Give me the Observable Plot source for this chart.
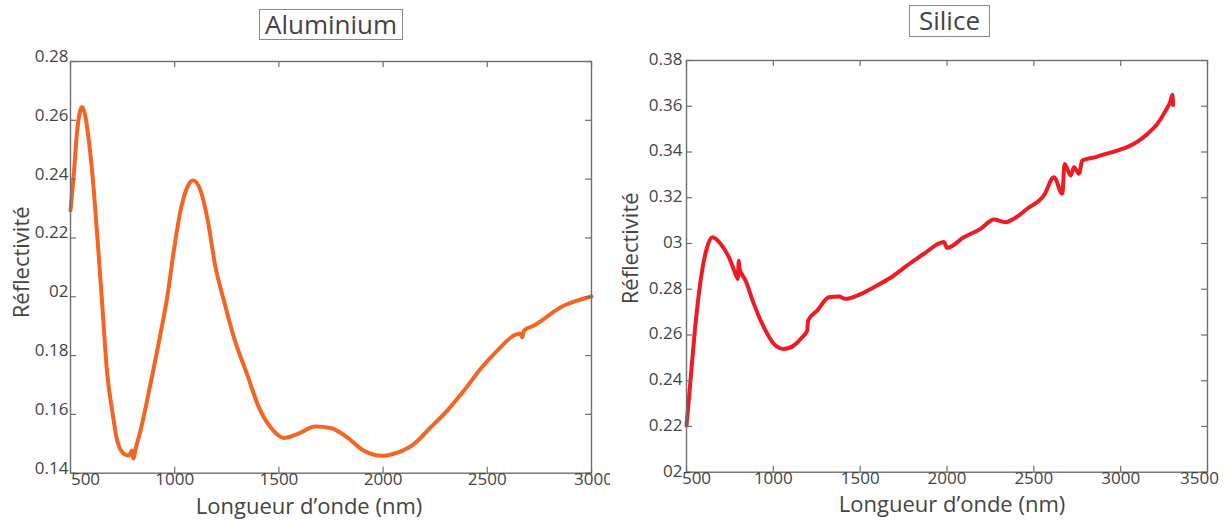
<!DOCTYPE html>
<html>
<head>
<meta charset="utf-8">
<script src="https://cdn.jsdelivr.net/npm/d3@7"></script>
<script src="https://cdn.jsdelivr.net/npm/@observablehq/plot@0.6"></script>
<style>
  body { margin: 0; background: #fff; font-family: "Open Sans", sans-serif; }
  #wrap { position: relative; width: 1227px; height: 522px; overflow: hidden; background: #fff; }
  .panel { position: absolute; top: 0; }
  .title { position: absolute; border: 1.5px solid #8a8a8a; color: #444; font-size: 26px; line-height: 28px;
           box-sizing: border-box; text-align: center; font-family: "Open Sans", sans-serif; }
</style>
</head>
<body>
<div id="wrap">
  <div id="al" class="panel" style="left:0px"></div>
  <div id="si" class="panel" style="left:610px"></div>
  <div class="title" style="left:259px;top:9px;width:144px;height:31px">Aluminium</div>
  <div class="title" style="left:909px;top:5px;width:81px;height:32px">Silice</div>
</div>
<script>
// ---------- Aluminium ----------
const alWavelength = [500, 516, 532, 556, 570, 588, 612, 636, 652, 676, 700, 724, 756, 780, 796, 801, 815, 836, 884, 932, 964, 996, 1028, 1060, 1089, 1124, 1156, 1196, 1236, 1284, 1348, 1404, 1460, 1524, 1588, 1676, 1748, 1828, 1908, 1996, 2068, 2148, 2228, 2308, 2388, 2468, 2548, 2636, 2660, 2668, 2676, 2724, 2772, 2852, 2932, 3000];
const alReflect   = [0.2293, 0.2418, 0.2565, 0.2645, 0.2618, 0.2531, 0.2361, 0.2134, 0.1976, 0.1739, 0.1613, 0.1511, 0.1466, 0.1460, 0.1477, 0.1450, 0.1490, 0.1545, 0.1705, 0.1875, 0.1998, 0.2157, 0.2293, 0.2372, 0.2395, 0.2361, 0.2270, 0.2100, 0.1987, 0.1862, 0.1735, 0.1624, 0.1556, 0.1520, 0.1533, 0.1559, 0.1554, 0.1522, 0.1476, 0.1459, 0.1470, 0.1499, 0.1556, 0.1613, 0.1681, 0.1755, 0.1817, 0.1871, 0.1874, 0.1862, 0.1885, 0.1902, 0.1925, 0.1964, 0.1987, 0.2001];
const alXTicks = [500, 1000, 1500, 2000, 2500, 3000];
const alYTicks = [0.14, 0.16, 0.18, 0.20, 0.22, 0.24, 0.26, 0.28];
const alYLabels = ["0.14", "0.16", "0.18", "02", "0.22", "0.24", "0.26", "0.28"];

// ---------- Silice ----------
const siWavelength = [500, 523, 552, 590, 619, 648, 696, 744, 790, 795, 801, 806, 840, 888, 945, 1003, 1060, 1118, 1166, 1195, 1200, 1253, 1320, 1378, 1416, 1483, 1579, 1675, 1771, 1867, 1982, 2001, 2097, 2193, 2270, 2337, 2385, 2462, 2558, 2616, 2664, 2677, 2712, 2731, 2760, 2779, 2866, 2885, 2981, 3077, 3154, 3211, 3259, 3288, 3298, 3302];
const siReflect   = [0.2204, 0.2401, 0.2649, 0.2882, 0.2984, 0.3027, 0.2999, 0.2940, 0.2853, 0.2845, 0.2925, 0.2890, 0.2838, 0.2736, 0.2634, 0.2561, 0.2539, 0.2554, 0.2590, 0.2619, 0.2663, 0.2707, 0.2765, 0.2768, 0.2758, 0.2772, 0.2809, 0.2850, 0.2904, 0.2955, 0.3006, 0.2981, 0.3027, 0.3064, 0.3105, 0.3093, 0.3108, 0.3152, 0.3210, 0.3290, 0.3217, 0.3348, 0.3297, 0.3333, 0.3305, 0.3363, 0.3380, 0.3385, 0.3406, 0.3436, 0.3479, 0.3523, 0.3581, 0.3625, 0.3650, 0.3605];
const siXTicks = [500, 1000, 1500, 2000, 2500, 3000, 3500];
const siYTicks = [0.20, 0.22, 0.24, 0.26, 0.28, 0.30, 0.32, 0.34, 0.36, 0.38];
const siYLabels = ["02", "0.22", "0.24", "0.26", "0.28", "03", "0.32", "0.34", "0.36", "0.38"];

const xAxisTitle = "Longueur d\u2019onde (nm)";
const yAxisTitle = "R\u00e9flectivit\u00e9";

function panel(cfg) {
  const data = cfg.nm.map((x, i) => ({x, y: cfg.r[i]}));
  const H = 522;
  const fw = cfg.width - cfg.mL - cfg.mR;
  const fh = H - cfg.mT - cfg.mB;
  const lab = new Map(cfg.yTicks.map((t, i) => [t, cfg.yLabels[i]]));
  const axisCol = "#6e6e6e";
  const tl = 6;
  const xt = cfg.xTicks;
  const fs = 17;
  return Plot.plot({
    width: cfg.width,
    height: H,
    marginLeft: cfg.mL, marginTop: cfg.mT, marginRight: cfg.mR, marginBottom: cfg.mB,
    x: {domain: cfg.xDomain},
    y: {domain: cfg.yDomain},
    style: {color: "#444", fontFamily: "Open Sans, sans-serif", fontSize: "17px", background: "white", overflow: "visible"},
    marks: [
      Plot.line(data, {x: "x", y: "y", stroke: cfg.color, strokeWidth: 4, curve: "monotone-x", strokeLinejoin: "round", strokeLinecap: "round"}),
      Plot.frame({stroke: axisCol, strokeWidth: 1.4}),
      Plot.tickY(cfg.yTicks, {y: d => d, stroke: axisCol, strokeWidth: 1.2, insetRight: fw - tl}),
      Plot.tickY(cfg.yTicks, {y: d => d, stroke: axisCol, strokeWidth: 1.2, insetLeft: fw - tl}),
      Plot.tickX(xt, {x: d => d, stroke: axisCol, strokeWidth: 1.2, insetTop: fh - tl}),
      Plot.tickX(xt, {x: d => d, stroke: axisCol, strokeWidth: 1.2, insetBottom: fh - tl}),
      Plot.axisY(cfg.yTicks, {anchor: "left", tickSize: 0, tickPadding: cfg.yPad, dy: cfg.yDy, tickFormat: d => lab.get(d), label: null, fontSize: fs}),
      Plot.axisX([xt[0]], {anchor: "bottom", tickSize: 0, tickPadding: 0, dx: cfg.firstDx, label: null, fontSize: fs, tickFormat: d => String(d)}),
      Plot.axisX(xt.slice(1, -1), {anchor: "bottom", tickSize: 0, tickPadding: 0, label: null, fontSize: fs, tickFormat: d => String(d)}),
      Plot.axisX([xt[xt.length - 1]], {anchor: "bottom", tickSize: 0, tickPadding: 0, dx: cfg.lastDx, label: null, fontSize: fs, tickFormat: d => String(d)}),
      Plot.text([yAxisTitle], {frameAnchor: "left", textAnchor: "middle", lineAnchor: "middle", rotate: -90, dx: cfg.yTitleDx, dy: cfg.yTitleDy, fontSize: 22, fill: "#444"}),
      Plot.text([xAxisTitle], {frameAnchor: "bottom", textAnchor: "middle", lineAnchor: "middle", dx: cfg.xTitleDx, dy: cfg.xTitleDy, fontSize: 22, fill: "#444"})
    ]
  });
}

document.getElementById("al").append(panel({
  nm: alWavelength, r: alReflect, color: "#F26522",
  width: 610, mL: 70, mT: 61, mR: 19, mB: 49.3,
  xDomain: [500, 3000], yDomain: [0.14, 0.28],
  xTicks: alXTicks, yTicks: alYTicks, yLabels: alYLabels,
  yPad: 2, yDy: -5, firstDx: 15, lastDx: 2,
  yTitleDx: -49, yTitleDy: -5, xTitleDx: -22, xTitleDy: 34
}));

document.getElementById("si").append(panel({
  nm: siWavelength, r: siReflect, color: "#ED1C24",
  width: 617, mL: 76, mT: 60, mR: 20, mB: 50.3,
  xDomain: [500, 3500], yDomain: [0.20, 0.38],
  xTicks: siXTicks, yTicks: siYTicks, yLabels: siYLabels,
  yPad: 4, yDy: -1, firstDx: 10, lastDx: -8,
  yTitleDx: -56, yTitleDy: -18, xTitleDx: 5, xTitleDy: 33
}));
</script>
</body>
</html>
